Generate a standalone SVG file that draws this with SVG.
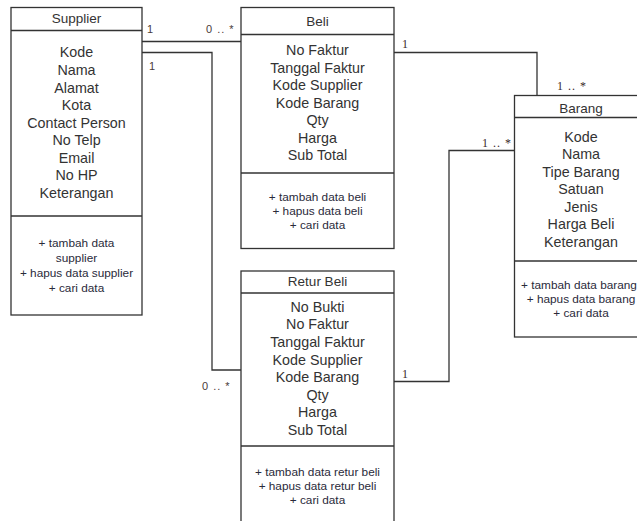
<svg xmlns="http://www.w3.org/2000/svg" width="637" height="521" viewBox="0 0 637 521">
<style>
.box{fill:#fff;stroke:#333;stroke-width:1.3}
.sep{stroke:#333;stroke-width:1.3}
.ttl{font-family:"Liberation Sans",Arial,sans-serif;font-size:13.5px;fill:#333;text-anchor:middle}
.att{font-family:"Liberation Sans",Arial,sans-serif;font-size:14.3px;fill:#333;text-anchor:middle}
.op{font-family:"Liberation Sans",Arial,sans-serif;font-size:11.8px;fill:#2a2a3a;text-anchor:middle}
.ln{fill:none;stroke:#333;stroke-width:1.3}
.ls{font-family:"Liberation Sans",Arial,sans-serif;font-size:11px;fill:#4a3a3a}
.lr{font-family:"Liberation Serif","Times New Roman",serif;font-size:12px;fill:#3a2a2a}
.sp{letter-spacing:1px}
</style>
<rect width="637" height="521" fill="#fff"/>
<g id="connectors">
<polyline class="ln" points="142,41.5 241,41.5"/>
<polyline class="ln" points="142,52.5 212,52.5 212,370 241,370"/>
<polyline class="ln" points="394,52.5 537,52.5 537,95.5"/>
<polyline class="ln" points="394,381.5 449,381.5 449,150.5 514.5,150.5"/>
<text class="ls" x="147" y="33">1</text>
<text class="ls sp" x="206" y="33">0 .. *</text>
<text class="ls" x="149" y="70">1</text>
<text class="ls sp" x="202" y="390">0 .. *</text>
<text class="lr" x="402" y="48">1</text>
<text class="lr sp" x="557" y="89.5">1 .. *</text>
<text class="lr sp" x="482" y="147">1 .. *</text>
<text class="lr" x="402" y="378">1</text>
</g>
<g id="supplier">
<rect class="box" x="11" y="7.5" width="131" height="307.5"/>
<line class="sep" x1="11" y1="30.5" x2="142" y2="30.5"/>
<line class="sep" x1="11" y1="216" x2="142" y2="216"/>
<text class="ttl" x="76.5" y="23">Supplier</text>
<text class="att" x="76.5" y="57">Kode</text>
<text class="att" x="76.5" y="75">Nama</text>
<text class="att" x="76.5" y="92.5">Alamat</text>
<text class="att" x="76.5" y="110">Kota</text>
<text class="att" x="76.5" y="127.5">Contact Person</text>
<text class="att" x="76.5" y="145">No Telp</text>
<text class="att" x="76.5" y="162.5">Email</text>
<text class="att" x="76.5" y="180">No HP</text>
<text class="att" x="76.5" y="197.5">Keterangan</text>
<text class="op" x="76.5" y="247">+ tambah data</text>
<text class="op" x="76.5" y="262">supplier</text>
<text class="op" x="76.5" y="277">+ hapus data supplier</text>
<text class="op" x="76.5" y="291.5">+ cari data</text>
</g>
<g id="beli">
<rect class="box" x="241" y="7.5" width="153" height="241"/>
<line class="sep" x1="241" y1="34.5" x2="394" y2="34.5"/>
<line class="sep" x1="241" y1="173" x2="394" y2="173"/>
<text class="ttl" x="317.5" y="25.5">Beli</text>
<text class="att" x="317.5" y="55">No Faktur</text>
<text class="att" x="317.5" y="72.5">Tanggal Faktur</text>
<text class="att" x="317.5" y="90">Kode Supplier</text>
<text class="att" x="317.5" y="107.5">Kode Barang</text>
<text class="att" x="317.5" y="125">Qty</text>
<text class="att" x="317.5" y="142.5">Harga</text>
<text class="att" x="317.5" y="160">Sub Total</text>
<text class="op" x="317.5" y="201">+ tambah data beli</text>
<text class="op" x="317.5" y="215">+ hapus data beli</text>
<text class="op" x="317.5" y="229">+ cari data</text>
</g>
<g id="retur-beli">
<rect class="box" x="241" y="271" width="153" height="260"/>
<line class="sep" x1="241" y1="293" x2="394" y2="293"/>
<line class="sep" x1="241" y1="446" x2="394" y2="446"/>
<text class="ttl" x="317.5" y="285.5">Retur Beli</text>
<text class="att" x="317.5" y="311.5">No Bukti</text>
<text class="att" x="317.5" y="329">No Faktur</text>
<text class="att" x="317.5" y="346.5">Tanggal Faktur</text>
<text class="att" x="317.5" y="364.5">Kode Supplier</text>
<text class="att" x="317.5" y="382">Kode Barang</text>
<text class="att" x="317.5" y="399.5">Qty</text>
<text class="att" x="317.5" y="417">Harga</text>
<text class="att" x="317.5" y="435">Sub Total</text>
<text class="op" x="317.5" y="476">+ tambah data retur beli</text>
<text class="op" x="317.5" y="490">+ hapus data retur beli</text>
<text class="op" x="317.5" y="504">+ cari data</text>
</g>
<g id="barang">
<rect class="box" x="514.5" y="95.5" width="133" height="241.5"/>
<line class="sep" x1="514.5" y1="117.5" x2="647.5" y2="117.5"/>
<line class="sep" x1="514.5" y1="261" x2="647.5" y2="261"/>
<text class="ttl" x="581" y="112.5">Barang</text>
<text class="att" x="581" y="141.5">Kode</text>
<text class="att" x="581" y="159">Nama</text>
<text class="att" x="581" y="176.5">Tipe Barang</text>
<text class="att" x="581" y="194">Satuan</text>
<text class="att" x="581" y="211.5">Jenis</text>
<text class="att" x="581" y="229">Harga Beli</text>
<text class="att" x="581" y="246.5">Keterangan</text>
<text class="op" x="579" y="288.5">+ tambah data barang</text>
<text class="op" x="581" y="302.5">+ hapus data barang</text>
<text class="op" x="581" y="317">+ cari data</text>
</g>
</svg>
